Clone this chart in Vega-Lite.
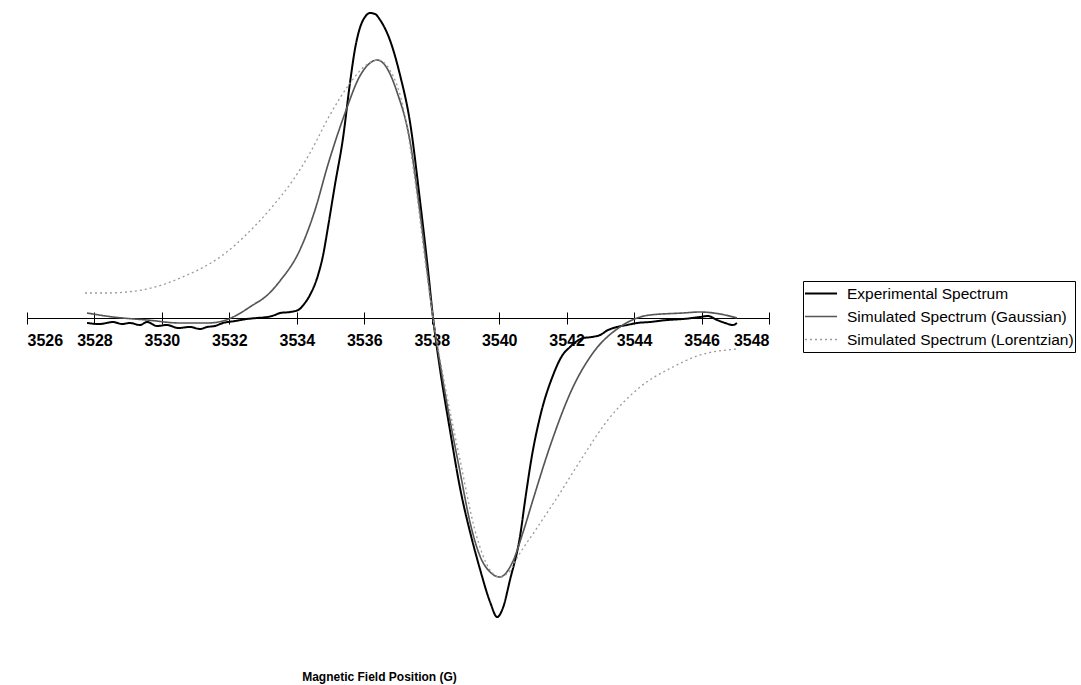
{
  "$schema": "https://vega.github.io/schema/vega-lite/v6.json",
  "width": 742,
  "height": 620,
  "autosize": {"type": "none"},
  "padding": {"left": 27, "top": 8, "right": 312, "bottom": 57},
  "background": "white",
  "config": {"view": {"stroke": null}, "font": "Liberation Sans"},
  "data": {"values": [
    {"series": "Experimental Spectrum", "x": 3527.78, "y": -5},
    {"series": "Experimental Spectrum", "x": 3528.16, "y": -6},
    {"series": "Experimental Spectrum", "x": 3528.55, "y": -4},
    {"series": "Experimental Spectrum", "x": 3528.82, "y": -6},
    {"series": "Experimental Spectrum", "x": 3529.05, "y": -5},
    {"series": "Experimental Spectrum", "x": 3529.35, "y": -7},
    {"series": "Experimental Spectrum", "x": 3529.56, "y": -4},
    {"series": "Experimental Spectrum", "x": 3529.85, "y": -8},
    {"series": "Experimental Spectrum", "x": 3530.15, "y": -7},
    {"series": "Experimental Spectrum", "x": 3530.48, "y": -10},
    {"series": "Experimental Spectrum", "x": 3530.83, "y": -9},
    {"series": "Experimental Spectrum", "x": 3531.13, "y": -11},
    {"series": "Experimental Spectrum", "x": 3531.34, "y": -9},
    {"series": "Experimental Spectrum", "x": 3531.57, "y": -8},
    {"series": "Experimental Spectrum", "x": 3531.81, "y": -5},
    {"series": "Experimental Spectrum", "x": 3532.17, "y": -3},
    {"series": "Experimental Spectrum", "x": 3532.52, "y": -1},
    {"series": "Experimental Spectrum", "x": 3532.82, "y": 0},
    {"series": "Experimental Spectrum", "x": 3533.12, "y": 1},
    {"series": "Experimental Spectrum", "x": 3533.35, "y": 3},
    {"series": "Experimental Spectrum", "x": 3533.50, "y": 5},
    {"series": "Experimental Spectrum", "x": 3533.80, "y": 6},
    {"series": "Experimental Spectrum", "x": 3534.04, "y": 8},
    {"series": "Experimental Spectrum", "x": 3534.24, "y": 15},
    {"series": "Experimental Spectrum", "x": 3534.39, "y": 23},
    {"series": "Experimental Spectrum", "x": 3534.63, "y": 43},
    {"series": "Experimental Spectrum", "x": 3534.78, "y": 63},
    {"series": "Experimental Spectrum", "x": 3534.92, "y": 90},
    {"series": "Experimental Spectrum", "x": 3535.13, "y": 133},
    {"series": "Experimental Spectrum", "x": 3535.37, "y": 180},
    {"series": "Experimental Spectrum", "x": 3535.58, "y": 236},
    {"series": "Experimental Spectrum", "x": 3535.73, "y": 270},
    {"series": "Experimental Spectrum", "x": 3535.87, "y": 290},
    {"series": "Experimental Spectrum", "x": 3536.02, "y": 301},
    {"series": "Experimental Spectrum", "x": 3536.17, "y": 305},
    {"series": "Experimental Spectrum", "x": 3536.32, "y": 304},
    {"series": "Experimental Spectrum", "x": 3536.47, "y": 298},
    {"series": "Experimental Spectrum", "x": 3536.76, "y": 278},
    {"series": "Experimental Spectrum", "x": 3537.06, "y": 243},
    {"series": "Experimental Spectrum", "x": 3537.36, "y": 195},
    {"series": "Experimental Spectrum", "x": 3537.65, "y": 118},
    {"series": "Experimental Spectrum", "x": 3537.89, "y": 48},
    {"series": "Experimental Spectrum", "x": 3538.04, "y": 0},
    {"series": "Experimental Spectrum", "x": 3538.25, "y": -52},
    {"series": "Experimental Spectrum", "x": 3538.54, "y": -112},
    {"series": "Experimental Spectrum", "x": 3538.84, "y": -170},
    {"series": "Experimental Spectrum", "x": 3539.22, "y": -225},
    {"series": "Experimental Spectrum", "x": 3539.43, "y": -251},
    {"series": "Experimental Spectrum", "x": 3539.73, "y": -284},
    {"series": "Experimental Spectrum", "x": 3539.94, "y": -299},
    {"series": "Experimental Spectrum", "x": 3540.11, "y": -290},
    {"series": "Experimental Spectrum", "x": 3540.32, "y": -262},
    {"series": "Experimental Spectrum", "x": 3540.62, "y": -218},
    {"series": "Experimental Spectrum", "x": 3540.77, "y": -182},
    {"series": "Experimental Spectrum", "x": 3540.97, "y": -138},
    {"series": "Experimental Spectrum", "x": 3541.21, "y": -99},
    {"series": "Experimental Spectrum", "x": 3541.60, "y": -57},
    {"series": "Experimental Spectrum", "x": 3541.86, "y": -38},
    {"series": "Experimental Spectrum", "x": 3542.10, "y": -29},
    {"series": "Experimental Spectrum", "x": 3542.31, "y": -23},
    {"series": "Experimental Spectrum", "x": 3542.49, "y": -20},
    {"series": "Experimental Spectrum", "x": 3542.75, "y": -19},
    {"series": "Experimental Spectrum", "x": 3542.99, "y": -17},
    {"series": "Experimental Spectrum", "x": 3543.23, "y": -12},
    {"series": "Experimental Spectrum", "x": 3543.49, "y": -9},
    {"series": "Experimental Spectrum", "x": 3543.79, "y": -7},
    {"series": "Experimental Spectrum", "x": 3544.09, "y": -5},
    {"series": "Experimental Spectrum", "x": 3544.47, "y": -4},
    {"series": "Experimental Spectrum", "x": 3544.98, "y": -2},
    {"series": "Experimental Spectrum", "x": 3545.45, "y": -1},
    {"series": "Experimental Spectrum", "x": 3545.95, "y": 1},
    {"series": "Experimental Spectrum", "x": 3546.19, "y": 2},
    {"series": "Experimental Spectrum", "x": 3546.46, "y": -2},
    {"series": "Experimental Spectrum", "x": 3546.70, "y": -5},
    {"series": "Experimental Spectrum", "x": 3546.93, "y": -7},
    {"series": "Experimental Spectrum", "x": 3547.05, "y": -5},

    {"series": "Simulated Spectrum (Gaussian)", "x": 3527.78, "y": 5},
    {"series": "Simulated Spectrum (Gaussian)", "x": 3528.55, "y": 1},
    {"series": "Simulated Spectrum (Gaussian)", "x": 3529.56, "y": -2},
    {"series": "Simulated Spectrum (Gaussian)", "x": 3530.54, "y": -5},
    {"series": "Simulated Spectrum (Gaussian)", "x": 3531.34, "y": -5},
    {"series": "Simulated Spectrum (Gaussian)", "x": 3531.81, "y": -3},
    {"series": "Simulated Spectrum (Gaussian)", "x": 3532.11, "y": 1},
    {"series": "Simulated Spectrum (Gaussian)", "x": 3532.70, "y": 13},
    {"series": "Simulated Spectrum (Gaussian)", "x": 3533.06, "y": 21},
    {"series": "Simulated Spectrum (Gaussian)", "x": 3533.50, "y": 37},
    {"series": "Simulated Spectrum (Gaussian)", "x": 3534.09, "y": 68},
    {"series": "Simulated Spectrum (Gaussian)", "x": 3534.54, "y": 108},
    {"series": "Simulated Spectrum (Gaussian)", "x": 3534.92, "y": 153},
    {"series": "Simulated Spectrum (Gaussian)", "x": 3535.43, "y": 205},
    {"series": "Simulated Spectrum (Gaussian)", "x": 3535.87, "y": 242},
    {"series": "Simulated Spectrum (Gaussian)", "x": 3536.17, "y": 255},
    {"series": "Simulated Spectrum (Gaussian)", "x": 3536.38, "y": 258},
    {"series": "Simulated Spectrum (Gaussian)", "x": 3536.67, "y": 250},
    {"series": "Simulated Spectrum (Gaussian)", "x": 3536.97, "y": 226},
    {"series": "Simulated Spectrum (Gaussian)", "x": 3537.36, "y": 176},
    {"series": "Simulated Spectrum (Gaussian)", "x": 3537.65, "y": 106},
    {"series": "Simulated Spectrum (Gaussian)", "x": 3538.04, "y": 0},
    {"series": "Simulated Spectrum (Gaussian)", "x": 3538.39, "y": -74},
    {"series": "Simulated Spectrum (Gaussian)", "x": 3538.84, "y": -154},
    {"series": "Simulated Spectrum (Gaussian)", "x": 3539.14, "y": -205},
    {"series": "Simulated Spectrum (Gaussian)", "x": 3539.43, "y": -238},
    {"series": "Simulated Spectrum (Gaussian)", "x": 3539.73, "y": -254},
    {"series": "Simulated Spectrum (Gaussian)", "x": 3540.02, "y": -259},
    {"series": "Simulated Spectrum (Gaussian)", "x": 3540.41, "y": -243},
    {"series": "Simulated Spectrum (Gaussian)", "x": 3540.71, "y": -214},
    {"series": "Simulated Spectrum (Gaussian)", "x": 3541.00, "y": -182},
    {"series": "Simulated Spectrum (Gaussian)", "x": 3541.51, "y": -128},
    {"series": "Simulated Spectrum (Gaussian)", "x": 3542.19, "y": -69},
    {"series": "Simulated Spectrum (Gaussian)", "x": 3542.78, "y": -35},
    {"series": "Simulated Spectrum (Gaussian)", "x": 3543.58, "y": -9},
    {"series": "Simulated Spectrum (Gaussian)", "x": 3544.47, "y": 3},
    {"series": "Simulated Spectrum (Gaussian)", "x": 3545.45, "y": 5},
    {"series": "Simulated Spectrum (Gaussian)", "x": 3545.95, "y": 6},
    {"series": "Simulated Spectrum (Gaussian)", "x": 3546.55, "y": 4},
    {"series": "Simulated Spectrum (Gaussian)", "x": 3547.05, "y": 0},

    {"series": "Simulated Spectrum (Lorentzian)", "x": 3527.72, "y": 25},
    {"series": "Simulated Spectrum (Lorentzian)", "x": 3528.37, "y": 25},
    {"series": "Simulated Spectrum (Lorentzian)", "x": 3528.97, "y": 26},
    {"series": "Simulated Spectrum (Lorentzian)", "x": 3529.56, "y": 29},
    {"series": "Simulated Spectrum (Lorentzian)", "x": 3530.09, "y": 34},
    {"series": "Simulated Spectrum (Lorentzian)", "x": 3530.54, "y": 40},
    {"series": "Simulated Spectrum (Lorentzian)", "x": 3531.13, "y": 49},
    {"series": "Simulated Spectrum (Lorentzian)", "x": 3531.81, "y": 63},
    {"series": "Simulated Spectrum (Lorentzian)", "x": 3532.52, "y": 84},
    {"series": "Simulated Spectrum (Lorentzian)", "x": 3533.29, "y": 112},
    {"series": "Simulated Spectrum (Lorentzian)", "x": 3533.89, "y": 138},
    {"series": "Simulated Spectrum (Lorentzian)", "x": 3534.39, "y": 165},
    {"series": "Simulated Spectrum (Lorentzian)", "x": 3534.98, "y": 203},
    {"series": "Simulated Spectrum (Lorentzian)", "x": 3535.58, "y": 235},
    {"series": "Simulated Spectrum (Lorentzian)", "x": 3536.02, "y": 252},
    {"series": "Simulated Spectrum (Lorentzian)", "x": 3536.41, "y": 258},
    {"series": "Simulated Spectrum (Lorentzian)", "x": 3536.76, "y": 248},
    {"series": "Simulated Spectrum (Lorentzian)", "x": 3537.15, "y": 211},
    {"series": "Simulated Spectrum (Lorentzian)", "x": 3537.50, "y": 138},
    {"series": "Simulated Spectrum (Lorentzian)", "x": 3537.80, "y": 58},
    {"series": "Simulated Spectrum (Lorentzian)", "x": 3538.04, "y": 0},
    {"series": "Simulated Spectrum (Lorentzian)", "x": 3538.39, "y": -67},
    {"series": "Simulated Spectrum (Lorentzian)", "x": 3538.84, "y": -142},
    {"series": "Simulated Spectrum (Lorentzian)", "x": 3539.28, "y": -212},
    {"series": "Simulated Spectrum (Lorentzian)", "x": 3539.73, "y": -252},
    {"series": "Simulated Spectrum (Lorentzian)", "x": 3540.02, "y": -259},
    {"series": "Simulated Spectrum (Lorentzian)", "x": 3540.32, "y": -253},
    {"series": "Simulated Spectrum (Lorentzian)", "x": 3540.53, "y": -240},
    {"series": "Simulated Spectrum (Lorentzian)", "x": 3541.06, "y": -213},
    {"series": "Simulated Spectrum (Lorentzian)", "x": 3541.71, "y": -180},
    {"series": "Simulated Spectrum (Lorentzian)", "x": 3542.40, "y": -143},
    {"series": "Simulated Spectrum (Lorentzian)", "x": 3543.20, "y": -103},
    {"series": "Simulated Spectrum (Lorentzian)", "x": 3544.18, "y": -69},
    {"series": "Simulated Spectrum (Lorentzian)", "x": 3545.15, "y": -49},
    {"series": "Simulated Spectrum (Lorentzian)", "x": 3545.87, "y": -38},
    {"series": "Simulated Spectrum (Lorentzian)", "x": 3547.05, "y": -31}
  ]},
  "layer": [
    {
      "mark": {"type": "line", "interpolate": "monotone"},
      "encoding": {
        "x": {
          "field": "x", "type": "quantitative",
          "scale": {"domain": [3526, 3548], "nice": false, "zero": false},
          "axis": {
            "orient": "bottom", "offset": -310,
            "values": [3526, 3528, 3530, 3532, 3534, 3536, 3538, 3540, 3542, 3544, 3546, 3548],
            "format": "d", "grid": false,
            "domainColor": "black", "domainWidth": 1,
            "tickColor": "black", "tickSize": 6, "tickWidth": 1,
            "labelFont": "Liberation Sans", "labelFontSize": 16, "labelFontWeight": "bold",
            "labelColor": "black", "labelPadding": 8,
            "title": "Magnetic Field Position (G)",
            "titleFont": "Liberation Sans", "titleFontSize": 12, "titleFontWeight": "bold",
            "titleColor": "black", "titleX": 352, "titleY": 358,
            "titleAlign": "center", "titleBaseline": "middle", "titleAnchor": null
          }
        },
        "y": {
          "field": "y", "type": "quantitative",
          "scale": {"domain": [-310, 310], "nice": false, "zero": false},
          "axis": null
        },
        "color": {
          "field": "series", "type": "nominal",
          "scale": {
            "domain": ["Experimental Spectrum", "Simulated Spectrum (Gaussian)", "Simulated Spectrum (Lorentzian)"],
            "range": ["#000000", "#555555", "#9a9a9a"]
          },
          "legend": {
            "orient": "none", "legendX": 776, "legendY": 273,
            "title": null,
            "strokeColor": "black", "fillColor": "white", "cornerRadius": 0,
            "padding": 1,
            "symbolType": "stroke", "symbolSize": 1024, "symbolStrokeWidth": 1.5,
            "clipHeight": 23,
            "labelFont": "Liberation Sans", "labelFontSize": 15.5, "labelColor": "black",
            "labelLimit": 300, "labelOffset": 9, "rowPadding": 0
          }
        },
        "strokeDash": {
          "field": "series", "type": "nominal",
          "scale": {
            "domain": ["Experimental Spectrum", "Simulated Spectrum (Gaussian)", "Simulated Spectrum (Lorentzian)"],
            "range": [[1, 0], [1, 0], [2, 3]]
          },
          "legend": null
        },
        "strokeWidth": {
          "field": "series", "type": "nominal",
          "scale": {
            "domain": ["Experimental Spectrum", "Simulated Spectrum (Gaussian)", "Simulated Spectrum (Lorentzian)"],
            "range": [2, 1.3, 1.3]
          },
          "legend": null
        }
      }
    },
    {
      "mark": {"type": "line", "opacity": 0},
      "encoding": {
        "x": {
          "field": "x", "type": "quantitative",
          "axis": {
            "orient": "top", "offset": -310,
            "values": [3526, 3528, 3530, 3532, 3534, 3536, 3538, 3540, 3542, 3544, 3546, 3548],
            "labels": false, "domain": false, "grid": false, "title": null,
            "tickColor": "black", "tickSize": 6, "tickWidth": 1
          }
        },
        "y": {"field": "y", "type": "quantitative"},
        "detail": {"field": "series"}
      }
    }
  ]
}
